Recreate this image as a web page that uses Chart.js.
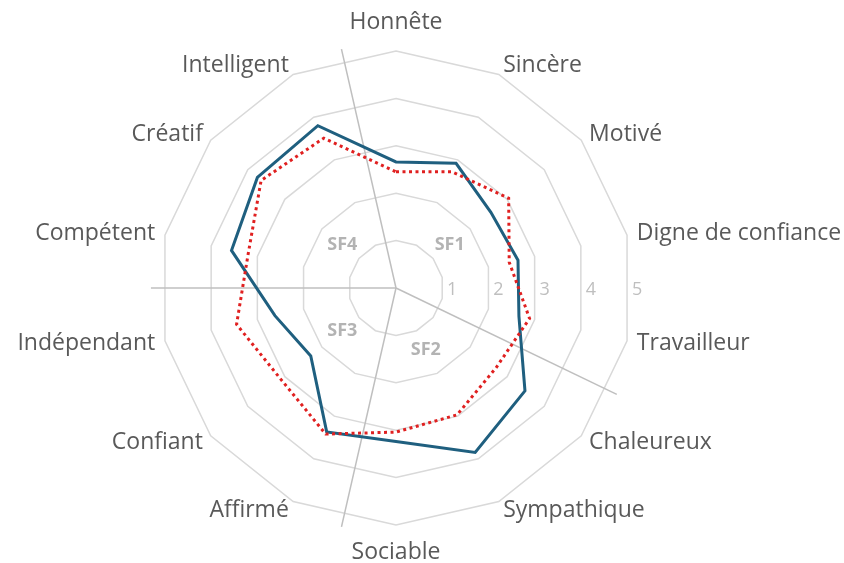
<!DOCTYPE html>
<html lang="fr">
<head>
<meta charset="utf-8">
<title>Profil SF</title>
<script src="https://cdn.jsdelivr.net/npm/chart.js@4.4.1/dist/chart.umd.min.js"></script>
<style>
    html, body { margin: 0; padding: 0; background: #ffffff; }
    #wrap { width: 844px; height: 563px; position: relative; }
</style>
</head>
<body>
<div id="wrap"><canvas id="profilChart"></canvas></div>
<script>
// ============================================
// DATA
// ============================================
const traits = ['Honnête', 'Sincère', 'Motivé', 'Digne de confiance', 'Travailleur',
    'Chaleureux', 'Sympathique', 'Sociable', 'Affirmé', 'Confiant',
    'Indépendant', 'Compétent', 'Créatif', 'Intelligent'];

// solid blue series
const serieBleue = [2.66, 2.92, 2.56, 2.64, 2.66, 3.48, 3.85, 3.24, 3.37, 2.30, 2.62, 3.56, 3.74, 3.80];
// dotted red series
const serieRouge = [2.45, 2.72, 3.04, 2.45, 2.89, 2.70, 2.97, 3.04, 3.42, 3.10, 3.45, 3.20, 3.64, 3.51];

const echelle = [1, 2, 3, 4, 5];

// groups of traits (index of first trait in each group)
const groupes = ['SF1', 'SF2', 'SF3', 'SF4'];
const groupeDebut = [0, 5, 8, 11];

// ============================================
// LABELS / DIVIDERS PLUGIN
// ============================================
const labelsPlugin = {
    id: 'excelLabels',
    beforeDatasetsDraw(chart) {
        const scale = chart.scales.r;
        const ctx = chart.ctx;
        const cx = scale.xCenter;
        const cy = scale.yCenter;
        const R = scale.drawingArea;
        ctx.save();

        // group dividers, between two traits
        ctx.strokeStyle = '#BFBFBF';
        ctx.lineWidth = 1.5;
        const lineLen = scale.getDistanceFromCenterForValue(5.17);
        groupeDebut.forEach(s => {
            const p = scale.getPointPosition(s - 0.5, lineLen);
            ctx.beginPath();
            ctx.moveTo(cx, cy);
            ctx.lineTo(p.x, p.y);
            ctx.stroke();
        });

        // group names
        ctx.font = 'bold 18px "Open Sans"';
        ctx.fillStyle = '#B3B3B3';
        ctx.textAlign = 'center';
        ctx.textBaseline = 'middle';
        groupes.forEach((g, i) => {
            const first = groupeDebut[i];
            const last = i < groupes.length - 1 ? groupeDebut[i + 1] - 1 : traits.length - 1;
            const p = scale.getPointPosition((first + last) / 2, scale.getDistanceFromCenterForValue(1.45));
            ctx.fillText(g, p.x, p.y);
        });

        // value scale, drawn to the right
        ctx.font = '18px "Open Sans"';
        ctx.fillStyle = '#BFBFBF';
        echelle.forEach(v => {
            const d = scale.getDistanceFromCenterForValue(v) * Math.cos(Math.PI / traits.length);
            ctx.fillText(String(v), cx + d + 10, cy + 2);
        });

        // trait labels
        ctx.font = '23px "Open Sans"';
        ctx.fillStyle = '#595959';
        traits.forEach((t, i) => {
            const p = scale.getPointPosition(i, R + 10);
            const deg = Math.round(scale.getIndexAngle(i) * 180 / Math.PI) % 360;
            let y = p.y;
            if (deg === 0) {
                ctx.textAlign = 'center';
                y -= 19;
            } else if (deg === 180) {
                ctx.textAlign = 'center';
                y += 17;
            } else if (deg < 180) {
                ctx.textAlign = 'left';
            } else {
                ctx.textAlign = 'right';
            }
            ctx.fillText(t, p.x, y);
        });

        ctx.restore();
    }
};

// ============================================
// RENDER CHART
// ============================================
function renderProfilChart() {
    const canvas = document.getElementById('profilChart');
    if (!canvas) return;

    Chart.defaults.font.family = '"Open Sans", sans-serif';

    new Chart(canvas.getContext('2d'), {
        type: 'radar',
        data: {
            labels: traits,
            datasets: [{
                label: 'Série 1',
                data: serieBleue,
                borderColor: '#1F5F7F',
                borderWidth: 3,
                fill: false,
                pointRadius: 0,
                order: 2
            }, {
                label: 'Série 2',
                data: serieRouge,
                borderColor: '#E02020',
                borderWidth: 3,
                borderDash: [3, 3.5],
                fill: false,
                pointRadius: 0,
                order: 1
            }]
        },
        options: {
            responsive: true,
            maintainAspectRatio: false,
            animation: false,
            layout: {
                padding: { top: 51, bottom: 38, left: 159, right: 211 }
            },
            plugins: {
                legend: { display: false },
                tooltip: { enabled: false }
            },
            scales: {
                r: {
                    min: 0,
                    max: 5,
                    ticks: { stepSize: 1, display: false },
                    grid: { circular: false, color: '#D9D9D9', lineWidth: 1.5 },
                    angleLines: { display: false },
                    pointLabels: { display: false }
                }
            }
        },
        plugins: [labelsPlugin]
    });
}

renderProfilChart();
</script>
</body>
</html>
